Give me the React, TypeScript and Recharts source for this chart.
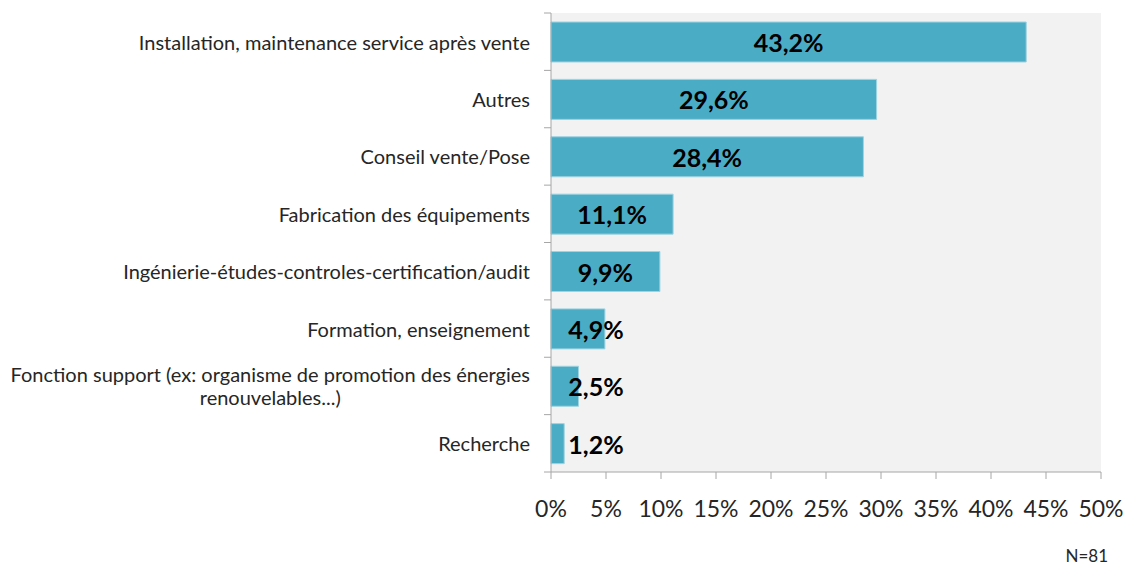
import React, { useLayoutEffect, useRef, useState } from "react";
import { BarChart, Bar, XAxis, YAxis, CartesianGrid, LabelList } from "recharts";

const categories = [
  "Installation, maintenance service après vente",
  "Autres",
  "Conseil vente/Pose",
  "Fabrication des équipements",
  "Ingénierie-études-controles-certification/audit",
  "Formation, enseignement",
  "Fonction support (ex: organisme de promotion des énergies\nrenouvelables...)",
  "Recherche",
];
const values = [43.2, 29.6, 28.4, 11.1, 9.9, 4.9, 2.5, 1.2];
const xTicks = [0, 5, 10, 15, 20, 25, 30, 35, 40, 45, 50];
const note = "N=81";

const data = categories.map((c, i) => ({ name: c, value: values[i] }));

const W = 1128;
const H = 567;
const TOP = 13;
const BOTTOM = 95;
const LEFT_AXIS = 551;
const RIGHT = 27;
const FONT = "Lato, 'Open Sans', sans-serif";
const AXIS_COLOR = "#a6a6a6";

const plotH = H - TOP - BOTTOM;
const band = plotH / categories.length;

function CatTick(props: any) {
  const { x, y, payload, index } = props;
  const lines: string[] = String(payload.value).split("\n");
  const ref = useRef<SVGTextElement>(null);
  const [w, setW] = useState(0);
  useLayoutEffect(() => {
    if (ref.current && lines.length > 1) {
      const tspans = ref.current.querySelectorAll("tspan");
      let m = 0;
      tspans.forEach((t: any) => (m = Math.max(m, t.getComputedTextLength())));
      setW(m);
    }
  }, [payload.value]);
  const lineH = 23;
  const tx = x - 21;
  const multi = lines.length > 1;
  const startY = y - ((lines.length - 1) * lineH) / 2;
  const isLast = index === categories.length - 1;
  return (
    <g>
      <line x1={x - 7} x2={x} y1={y - band / 2} y2={y - band / 2} stroke={AXIS_COLOR} />
      {isLast && <line x1={x - 7} x2={x} y1={y + band / 2} y2={y + band / 2} stroke={AXIS_COLOR} />}
      <text
        ref={ref}
        x={multi ? tx - w / 2 : tx}
        y={startY}
        textAnchor={multi ? "middle" : "end"}
        dominantBaseline="central"
        fontSize={20}
        fontFamily={FONT}
        fill="#262626"
      >
        {lines.map((l, i) => (
          <tspan key={i} x={multi ? tx - w / 2 : tx} dy={i === 0 ? 0 : lineH}>
            {l}
          </tspan>
        ))}
      </text>
    </g>
  );
}

function ValueLabel(props: any) {
  const { x, y, width, height, value } = props;
  const cx = Math.max(x + width / 2, x + 45);
  return (
    <text
      x={cx}
      y={y + height / 2}
      textAnchor="middle"
      dominantBaseline="central"
      fontSize={25}
      fontWeight={700}
      fontFamily={FONT}
      fill="#000"
    >
      {value.toFixed(1).replace(".", ",") + "%"}
    </text>
  );
}

export default function App() {
  return (
    <div style={{ position: "absolute", left: 0, top: 0, width: W, height: H, background: "#fff" }}>
      <BarChart
        width={W}
        height={H}
        data={data}
        layout="vertical"
        margin={{ top: TOP, right: RIGHT, bottom: BOTTOM - 50, left: 0 }}
        barSize={40}
      >
        <CartesianGrid fill="#f2f2f2" horizontal={false} vertical={false} stroke="none" />
        <XAxis
          type="number"
          domain={[0, 50]}
          ticks={xTicks}
          interval={0}
          height={50}
          tickFormatter={(v: number) => `${v}%`}
          stroke={AXIS_COLOR}
          tickSize={7}
          tick={{ fontSize: 23, fontFamily: FONT, fill: "#262626", dy: 20 }}
        />
        <YAxis
          type="category"
          dataKey="name"
          width={LEFT_AXIS}
          stroke={AXIS_COLOR}
          tickLine={false}
          tickSize={0}
          tickMargin={0}
          interval={0}
          tick={<CatTick />}
        />
        <Bar dataKey="value" fill="#4bacc6" stroke="#9fd3e0" strokeWidth={1} isAnimationActive={false}>
          <LabelList dataKey="value" content={<ValueLabel />} />
        </Bar>
      </BarChart>
      <div
        style={{
          position: "absolute",
          right: 20,
          top: 545,
          fontSize: 17,
          fontFamily: FONT,
          color: "#262626",
        }}
      >
        {note}
      </div>
    </div>
  );
}
